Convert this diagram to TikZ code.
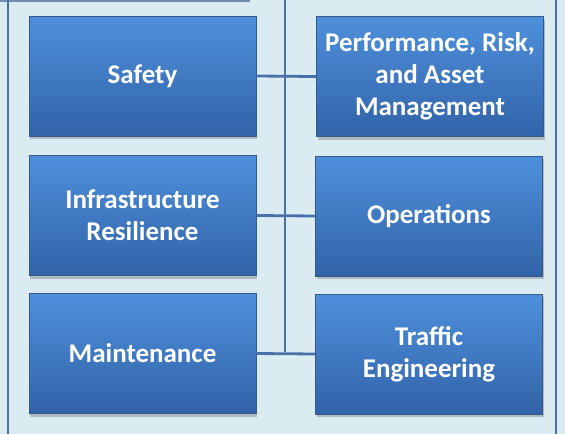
\documentclass[tikz,border=0pt]{standalone}
\usepackage{fontspec}
\setmainfont{Carlito}
\usetikzlibrary{shadows}
\definecolor{panelbg}{HTML}{DAEBF2}
\definecolor{linkblue}{HTML}{4A70A8}
\definecolor{boxtop}{HTML}{4F90DC}
\definecolor{boxbot}{HTML}{3163A8}
\definecolor{boxedge}{HTML}{36598C}
\begin{document}
\begin{tikzpicture}[x=1pt, y=-1pt,
	every node/.style={rectangle, minimum width=227pt, minimum height=120pt, inner sep=0pt,
		top color=boxtop, bottom color=boxbot, draw=boxedge, line width=0.6pt,
		text=white, font=\fontsize{27}{32}\selectfont\bfseries, align=center,
		drop shadow={opacity=0.45, shadow xshift=1pt, shadow yshift=-3pt}},
	link/.style={draw=linkblue, line width=2.8pt}]
			\useasboundingbox (0,0) rectangle (565,434);
			\fill[panelbg] (0,0) rectangle (565,434);
			\fill[boxedge!70] (0,0) rectangle (250,1.5);
			\draw[linkblue, line width=2.4pt] (8,0) -- (8,434);
			\draw[linkblue, line width=2.4pt] (556,0) -- (556,434);
			\coordinate (top) at (285,0);
			\coordinate (bot) at (285,352);
			\draw[link] (top) -- (bot);
			\node (safety) at (142.5,76) {Safety};
			\node (infra) at (142.5,215.5) {Infrastructure\\Resilience};
			\node (maint) at (142.5,353.5) {Maintenance};
			\node (perf) at (430,76.5) {Performance, Risk,\\and Asset\\Management};
			\node (ops) at (429,216) {Operations};
			\node (traffic) at (429,354) {Traffic\\Engineering};
			\draw[link] (safety.east) -- (perf.west);
			\draw[link] (infra.east) -- (ops.west);
			\draw[link] (maint.east) -- (traffic.west);
\end{tikzpicture}
\end{document}
